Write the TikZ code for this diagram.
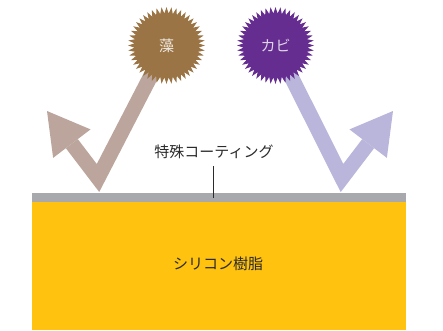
\documentclass[tikz,border=0pt]{standalone}
\usepackage{fontspec}
\setmainfont{Noto Sans CJK JP}
\usetikzlibrary{shapes.geometric,arrows.meta,backgrounds}
\definecolor{algaestar}{HTML}{9A7444}
\definecolor{algaearrow}{HTML}{BBA59C}
\definecolor{moldstar}{HTML}{662D91}
\definecolor{moldarrow}{HTML}{B9B5DB}
\definecolor{coatgray}{HTML}{A7A9AC}
\definecolor{resinyellow}{HTML}{FFC20E}
\definecolor{labeltext}{HTML}{2B2B2B}
\tikzset{
  burst/.style={star, star points=48, star point ratio=1.2, minimum size=77pt,
    inner sep=0pt, draw=none, font=\fontsize{15pt}{15pt}\selectfont},
  bounce/.style={line width=15pt, line join=miter, line cap=butt,
    -{Triangle[length=41pt,width=47pt,line width=0pt]}},
  lbl/.style={text=labeltext, inner sep=0pt, font=\fontsize{15pt}{15pt}\selectfont}
}
\begin{document}
\begin{tikzpicture}[x=1pt,y=-1pt]
\useasboundingbox (0,0) rectangle (443,330);
% layers
\fill[resinyellow] (32,202) rectangle (406,330);
\fill[coatgray] (32,193) rectangle (406,202);
% stars
\node[burst, fill=algaestar, text=white!85!algaestar] (algae) at (166.5,45.5) {藻};
\node[burst, fill=moldstar, text=white!80!moldstar] (mold) at (275.5,45.5) {カビ};
% bounce points
\coordinate (v1) at (98,178);
\coordinate (t1) at (47,111);
\coordinate (v2) at (342,178);
\coordinate (t2) at (393,111);
\begin{scope}[on background layer]
\draw[bounce, draw=algaearrow] (algae.center) -- (v1) -- (t1);
\draw[bounce, draw=moldarrow] (mold.center) -- (v2) -- (t2);
\end{scope}
% labels
\node[lbl] (coat) at (214,152) {特殊コーティング};
\node[lbl] (resin) at (218,264) {シリコン樹脂};
\coordinate (p1) at (213,166);
\coordinate (p2) at (213,198);
\draw[line width=0.9pt, labeltext] (p1) -- (p2);
\end{tikzpicture}
\end{document}
